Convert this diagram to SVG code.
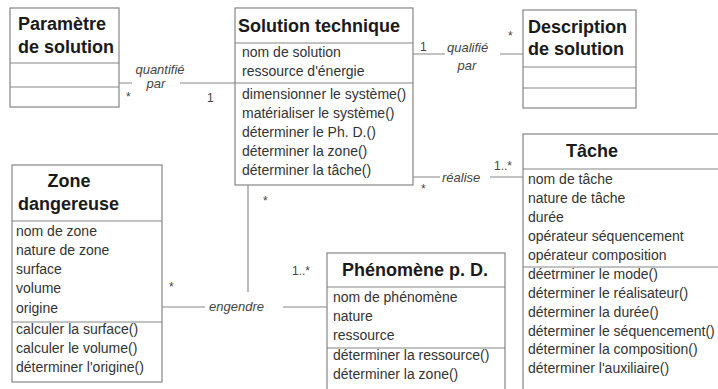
<svg xmlns="http://www.w3.org/2000/svg" width="718" height="389" viewBox="0 0 718 389">
<style>
.box{fill:#fff;stroke:#858585;stroke-width:1.2}
.sep{stroke:#858585;stroke-width:1.1}
.ln{stroke:#858585;stroke-width:1.1;fill:none}
.t{font-family:"Liberation Sans",Arial,sans-serif;font-size:18px;font-weight:bold;fill:#1a1a1a}
.a{font-family:"Liberation Sans",Arial,sans-serif;font-size:14px;fill:#333}
.l{font-family:"Liberation Sans",Arial,sans-serif;font-size:13px;font-style:italic;fill:#444}
.m{font-family:"Liberation Sans",Arial,sans-serif;font-size:12px;fill:#444}
</style>
<rect width="718" height="389" fill="#fff"/>
<g id="connectors">
<path class="ln" d="M119,83 H132 M180,83 H235"/>
<path class="ln" d="M413,54 H445 M500,54 H523"/>
<path class="ln" d="M413,177 H440 M490,177 H523"/>
<path class="ln" d="M162,307 H205 M283,307 H327"/>
<path class="ln" d="M248,185 V292"/>
<text class="l" x="160" y="74" text-anchor="middle">quantifié</text>
<text class="l" x="156" y="88" text-anchor="middle">par</text>
<text class="m" x="126" y="101">*</text>
<text class="m" x="207" y="102">1</text>
<text class="l" x="447" y="52">qualifié</text>
<text class="l" x="467" y="70" text-anchor="middle">par</text>
<text class="m" x="420" y="51">1</text>
<text class="m" x="508" y="40">*</text>
<text class="l" x="442" y="182">réalise</text>
<text class="m" x="421" y="193">*</text>
<text class="m" x="494" y="170">1..*</text>
<text class="l" x="209" y="311">engendre</text>
<text class="m" x="263" y="205">*</text>
<text class="m" x="169" y="291">*</text>
<text class="m" x="292" y="275">1..*</text>
</g>
<g id="parametre">
<rect class="box" x="10" y="8" width="109" height="99"/>
<line class="sep" x1="10" y1="63" x2="119" y2="63"/>
<line class="sep" x1="10" y1="87" x2="119" y2="87"/>
<text class="t" x="18" y="30">Paramètre</text>
<text class="t" x="18" y="53">de solution</text>
</g>
<g id="solution">
<rect class="box" x="235" y="8" width="178" height="177"/>
<line class="sep" x1="235" y1="43" x2="413" y2="43"/>
<line class="sep" x1="235" y1="83" x2="413" y2="83"/>
<text class="t" x="238" y="32">Solution technique</text>
<text class="a" x="242" y="57">nom de solution</text>
<text class="a" x="242" y="76">ressource d'énergie</text>
<text class="a" x="242" y="99">dimensionner le système()</text>
<text class="a" x="242" y="118">matérialiser le système()</text>
<text class="a" x="242" y="137">déterminer le Ph. D.()</text>
<text class="a" x="242" y="156">déterminer la zone()</text>
<text class="a" x="242" y="175">déterminer la tâche()</text>
</g>
<g id="description">
<rect class="box" x="523" y="10" width="113" height="98"/>
<line class="sep" x1="523" y1="67" x2="636" y2="67"/>
<line class="sep" x1="523" y1="88" x2="636" y2="88"/>
<text class="t" x="528" y="33">Description</text>
<text class="t" x="528" y="55">de solution</text>
</g>
<g id="zone">
<rect class="box" x="12" y="165" width="150" height="217"/>
<line class="sep" x1="12" y1="221" x2="162" y2="221"/>
<line class="sep" x1="12" y1="322" x2="162" y2="322"/>
<text class="t" x="69" y="187" text-anchor="middle">Zone</text>
<text class="t" x="18" y="210">dangereuse</text>
<text class="a" x="16" y="236">nom de zone</text>
<text class="a" x="16" y="255">nature de zone</text>
<text class="a" x="16" y="274">surface</text>
<text class="a" x="16" y="293">volume</text>
<text class="a" x="16" y="313">origine</text>
<text class="a" x="16" y="334">calculer la surface()</text>
<text class="a" x="16" y="353">calculer le volume()</text>
<text class="a" x="16" y="372">déterminer l'origine()</text>
</g>
<g id="phenomene">
<rect class="box" x="327" y="253" width="178" height="150"/>
<line class="sep" x1="327" y1="287" x2="505" y2="287"/>
<line class="sep" x1="327" y1="348" x2="505" y2="348"/>
<text class="t" x="415" y="276" text-anchor="middle">Phénomène p. D.</text>
<text class="a" x="333" y="302">nom de phénomène</text>
<text class="a" x="333" y="321">nature</text>
<text class="a" x="333" y="340">ressource</text>
<text class="a" x="333" y="360">déterminer la ressource()</text>
<text class="a" x="333" y="379">déterminer la zone()</text>
</g>
<g id="tache">
<rect class="box" x="523" y="134" width="200" height="260"/>
<line class="sep" x1="523" y1="169" x2="723" y2="169"/>
<line class="sep" x1="523" y1="267" x2="723" y2="267"/>
<text class="t" x="592" y="157" text-anchor="middle">Tâche</text>
<text class="a" x="528" y="184">nom de tâche</text>
<text class="a" x="528" y="203">nature de tâche</text>
<text class="a" x="528" y="222">durée</text>
<text class="a" x="528" y="241">opérateur séquencement</text>
<text class="a" x="528" y="260">opérateur composition</text>
<text class="a" x="528" y="279">déetrminer le mode()</text>
<text class="a" x="528" y="298">déterminer le réalisateur()</text>
<text class="a" x="528" y="317">déterminer la durée()</text>
<text class="a" x="528" y="336">déterminer le séquencement()</text>
<text class="a" x="528" y="354">déterminer la composition()</text>
<text class="a" x="528" y="373">déterminer l'auxiliaire()</text>
</g>
</svg>
